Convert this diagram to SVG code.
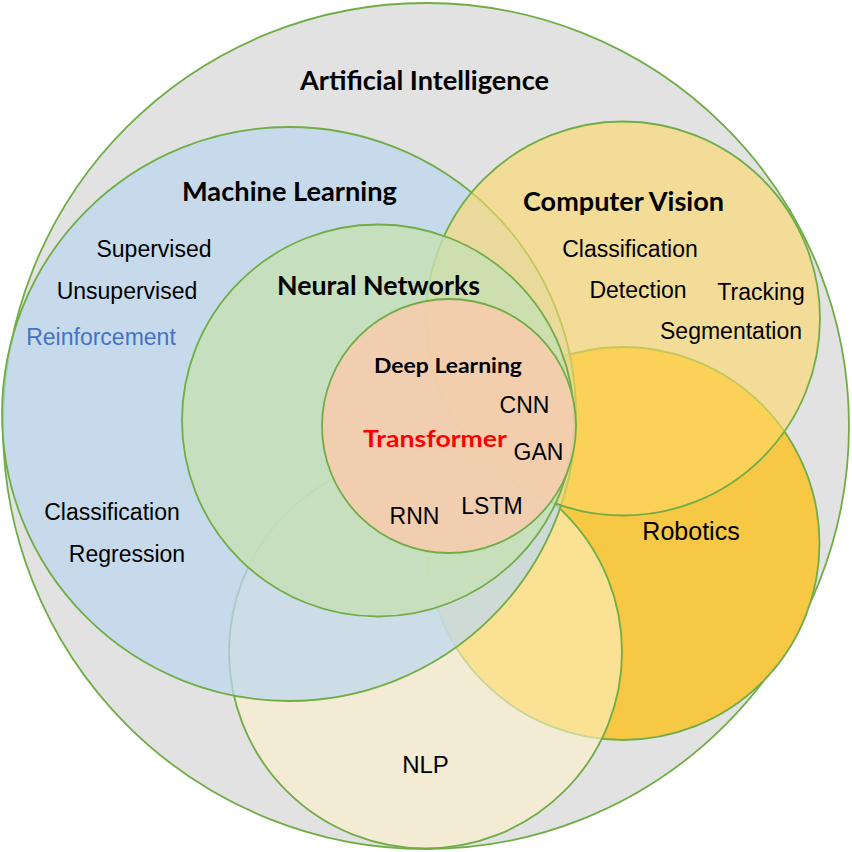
<svg xmlns="http://www.w3.org/2000/svg" width="852" height="852" viewBox="0 0 852 852">
<style>
.c{stroke:#70AD47;stroke-width:1.8}
.t{font-family:"Liberation Sans",Arial,sans-serif;font-size:23px;fill:#000;text-anchor:middle}
.b{font-family:Lato,"Liberation Sans",sans-serif;font-weight:700;font-size:26px;fill:#000;text-anchor:middle}
</style>
<rect width="852" height="852" fill="#fff"/>
<g id="ai">
<circle class="c" cx="426" cy="426" r="423" fill="#E2E2E2"/>
<text class="b" x="424.5" y="90" textLength="249" lengthAdjust="spacingAndGlyphs">Artificial Intelligence</text>
</g>
<g id="robotics">
<circle class="c" cx="623" cy="543.5" r="196.5" fill="#F6C843"/>
<text class="t" x="691" y="540" style="font-size:25px">Robotics</text>
</g>
<g id="nlp">
<circle class="c" cx="425.5" cy="652" r="196.5" fill="#FFF2CC" fill-opacity="0.6"/>
<text class="t" x="425.5" y="773" style="font-size:24px">NLP</text>
</g>
<g id="ml">
<circle class="c" cx="289" cy="414" r="287" fill="#BDD7EE" fill-opacity="0.72"/>
<text class="b" x="289.5" y="201" textLength="215" lengthAdjust="spacingAndGlyphs">Machine Learning</text>
<text class="t" x="154" y="257">Supervised</text>
<text class="t" x="127" y="299">Unsupervised</text>
<text class="t" x="101" y="345" style="fill:#4472C4">Reinforcement</text>
<text class="t" x="112" y="520">Classification</text>
<text class="t" x="127" y="562">Regression</text>
</g>
<g id="cv">
<circle class="c" cx="623" cy="318.5" r="197" fill="#FFD966" fill-opacity="0.6"/>
<text class="b" x="623.5" y="211" textLength="201" lengthAdjust="spacingAndGlyphs">Computer Vision</text>
<text class="t" x="630" y="257">Classification</text>
<text class="t" x="638" y="298">Detection</text>
<text class="t" x="761" y="300">Tracking</text>
<text class="t" x="731" y="339">Segmentation</text>
</g>
<g id="nn">
<circle class="c" cx="378" cy="420.5" r="196" fill="#C5E0B4" fill-opacity="0.8"/>
<text class="b" x="378.5" y="295" textLength="203" lengthAdjust="spacingAndGlyphs">Neural Networks</text>
</g>
<g id="dl">
<circle class="c" cx="449" cy="426" r="127" fill="#F8CBAD" fill-opacity="0.85"/>
<text class="b" x="448" y="373" style="font-size:21px" textLength="148" lengthAdjust="spacingAndGlyphs">Deep Learning</text>
<text class="b" x="435" y="447" style="font-size:23px;fill:#FF0000" textLength="144" lengthAdjust="spacingAndGlyphs">Transformer</text>
<text class="t" x="524.5" y="413">CNN</text>
<text class="t" x="538.5" y="460">GAN</text>
<text class="t" x="492" y="514">LSTM</text>
<text class="t" x="414.5" y="524">RNN</text>
</g>
<g id="connectors"/>
</svg>
